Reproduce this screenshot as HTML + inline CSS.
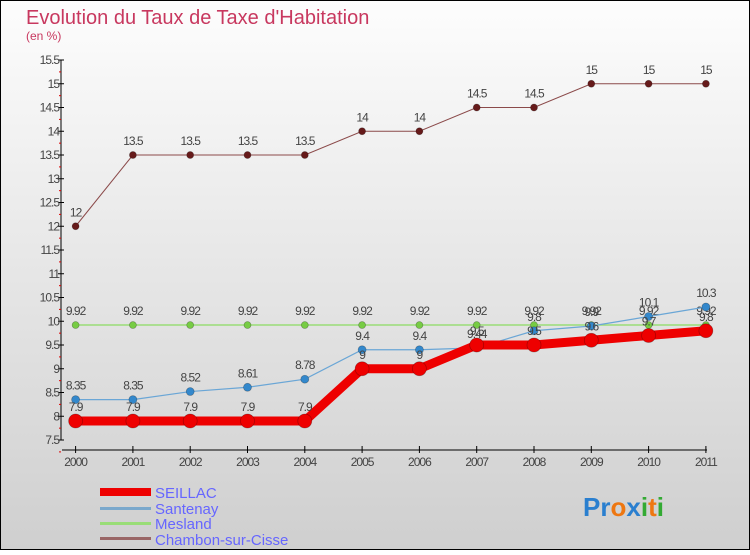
<!DOCTYPE html>
<html><head><meta charset="utf-8"><style>
body{margin:0;}
svg text{font-family:"Liberation Sans",sans-serif;}
</style></head><body>
<svg width="750" height="550" xmlns="http://www.w3.org/2000/svg">
<defs><linearGradient id="bg" x1="0" y1="0" x2="0" y2="1"><stop offset="0" stop-color="#fdfdfd"/><stop offset="1" stop-color="#cfcfcf"/></linearGradient></defs>
<rect x="0.5" y="0.5" width="749" height="549" fill="url(#bg)" stroke="#000"/>
<text x="26" y="24" font-size="20" fill="#c8385f">Evolution du Taux de Taxe d'Habitation</text>
<text x="26" y="40" font-size="12" fill="#c8385f">(en %)</text>
<g id="axes"></g><g id="series"></g>
<g>
<rect x="100" y="488" width="51" height="8" fill="#ee0000"/>
<text x="155" y="498" font-size="15" fill="#6666ff">SEILLAC</text>
<rect x="100" y="507" width="51" height="3" fill="#7aa8cc"/>
<text x="155" y="514" font-size="15" fill="#6666ff">Santenay</text>
<rect x="100" y="522" width="51" height="3" fill="#99dd77"/>
<text x="155" y="529" font-size="15" fill="#6666ff">Mesland</text>
<rect x="100" y="537" width="51" height="3" fill="#996666"/>
<text x="155" y="545" font-size="15" fill="#6666ff">Chambon-sur-Cisse</text>
</g>
<text x="583" y="516" font-size="26" font-weight="bold"><tspan fill="#2a7fcf">Pr</tspan><tspan fill="#ee7711">o</tspan><tspan fill="#2a7fcf">x</tspan><tspan fill="#33aa33">i</tspan><tspan fill="#ee7711">t</tspan><tspan fill="#33aa33">i</tspan></text>
</svg>
<script>
const years=["2000","2001","2002","2003","2004","2005","2006","2007","2008","2009","2010","2011"];
const yTicks=[7.5,8,8.5,9,9.5,10,10.5,11,11.5,12,12.5,13,13.5,14,14.5,15,15.5];
const seillac=[7.9,7.9,7.9,7.9,7.9,9,9,9.5,9.5,9.6,9.7,9.8];
const santenay=[8.35,8.35,8.52,8.61,8.78,9.4,9.4,9.44,9.8,9.9,10.1,10.3];
const mesland=[9.92,9.92,9.92,9.92,9.92,9.92,9.92,9.92,9.92,9.92,9.92,9.92];
const chambon=[12,13.5,13.5,13.5,13.5,14,14,14.5,14.5,15,15,15];
const NS="http://www.w3.org/2000/svg";
const X=i=>75.6+i*57.3, Y=v=>440-(v-7.5)*47.5;
function mk(t,a,p){const e=document.createElementNS(NS,t);for(const k in a)e.setAttribute(k,a[k]);p.appendChild(e);return e;}
const ax=document.getElementById('axes'),sg=document.getElementById('series');
let l=mk('line',{x1:61,y1:60,x2:61,y2:440,stroke:'#000'},ax);


l=mk('line',{x1:62,y1:450,x2:707,y2:450,stroke:'#000'},ax);


yTicks.forEach(v=>{
  mk('line',{x1:58,x2:64,y1:Y(v),y2:Y(v),stroke:'#000'},ax);
  mk('line',{x1:59,x2:61,y1:Y(v)+11.9,y2:Y(v)+11.9,stroke:'#d00'},ax);
  const t=mk('text',{x:59,y:Y(v)+4,'font-size':12,'text-anchor':'end',fill:'#444','letter-spacing':'-1'},ax);
  t.textContent=String(v);
  
  
});
years.forEach((y,i)=>{
  mk('line',{x1:X(i),x2:X(i),y1:446,y2:453,stroke:'#000'},ax);
  const t=mk('text',{x:X(i),y:466,'font-size':12,'text-anchor':'middle',fill:'#444','letter-spacing':'-1'},ax);
  t.textContent=y;
  
  
});
function series(d,name,col,w,r,dot){
  const g=mk('g',{},sg);
  
  
  const p=mk('polyline',{points:d.map((v,i)=>X(i)+','+Y(v)).join(' '),fill:'none',stroke:col,'stroke-width':w},g);
  
  
  d.forEach((v,i)=>{
    const c=mk('circle',{cx:X(i),cy:Y(v),r:r,fill:dot,stroke:'rgba(0,0,0,0.3)','stroke-width':0.7},g);
    
    
    const t=mk('text',{x:X(i),y:Y(v)-10,'font-size':12,'text-anchor':'middle',fill:'#444','letter-spacing':'-1'},g);
    t.textContent=String(v);
    
    
  });
}
series(chambon,'chambon','#8b4a4a',1,3.5,'#661a1a');
series(mesland,'mesland','#99dd77',1.5,3.5,'#77cc44');
series(santenay,'santenay','#6aa6d6',1.2,4,'#3388cc');
series(seillac,'seillac','#ee0000',9,7,'#ee0000');
</script>
</body></html>
